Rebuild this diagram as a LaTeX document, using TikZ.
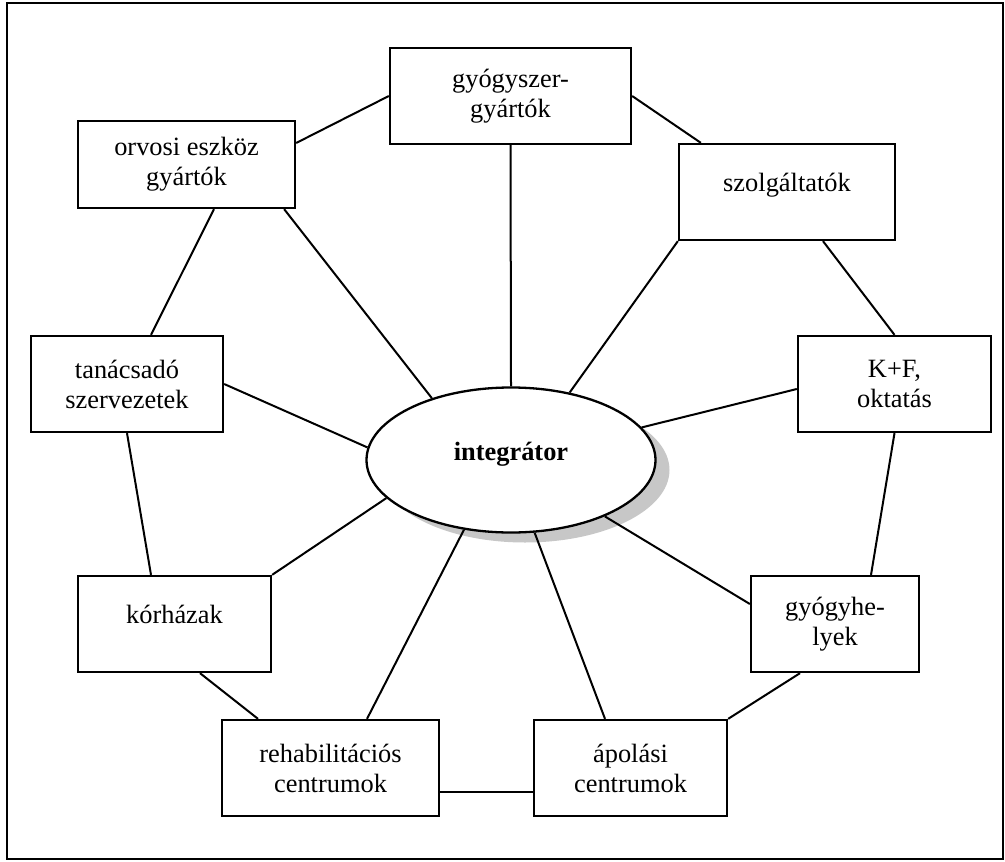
\documentclass[tikz,border=0pt]{standalone}
\usepackage{fontspec}
\setmainfont{Liberation Serif}
\usetikzlibrary{shapes.geometric,shadows}

\begin{document}
\begin{tikzpicture}[x=0.5pt, y=-0.5pt,
		box/.style={draw, line width=1.15pt, fill=white, align=center, inner sep=0pt,
			minimum height=48pt, font=\fontsize{13.2}{15}\selectfont},
		oneline/.style={text height=9.5pt, text depth=10pt},
		link/.style={line width=1pt}]
		{
			% frame
			\useasboundingbox (0,0) rectangle (1005,861);
			\draw[line width=0.8pt] (7,3) rectangle (1003,859);

			% centre
			\node[ellipse, draw, line width=1.15pt, fill=white, inner sep=0pt,
				minimum width=144.5pt, minimum height=72.5pt,
				drop shadow={shadow xshift=7pt, shadow yshift=-5pt, fill=black!22, opacity=1},
				font=\fontsize{13.2}{15}\selectfont\bfseries, text height=9pt, text depth=9pt]
				(integ) at (511,460) {integrátor};

			% boxes
			\node[box, minimum width=120.5pt] (gyogy) at (510.5,96) {gyógyszer-\\gyártók};
			\node[box, minimum width=108.5pt, minimum height=43.5pt] (orvosi) at (186.5,164.5) {orvosi eszköz\\gyártók};
			\node[box, oneline, minimum width=108pt] (szolg) at (787,192) {szolgáltatók};
			\node[box, minimum width=96pt] (tanacs) at (127,384) {tanácsadó\\szervezetek};
			\node[box, minimum width=96.5pt] (kf) at (894.5,384) {K+F,\\oktatás};
			\node[box, oneline, minimum width=96.5pt] (korh) at (174.5,624) {kórházak};
			\node[box, minimum width=84pt] (gyh) at (835,624) {gyógyhe-\\lyek};
			\node[box, minimum width=108.5pt] (rehab) at (330.5,768) {rehabilitációs\\centrumok};
			\node[box, minimum width=96.5pt] (apol) at (630.5,768) {ápolási\\centrumok};

			% ring
			\draw[link] ([yshift=10.75pt]orvosi.east) -- (gyogy.west);
			\draw[link] (gyogy.east) -- ([xshift=11.5pt]szolg.north west);
			\draw[link] ([xshift=18pt]szolg.south) -- (kf.north);
			\draw[link] (kf.south) -- ([xshift=18pt]gyh.north);
			\draw[link] ([xshift=-17.5pt]gyh.south) -- (apol.north east);
			\draw[link] ([yshift=-12pt]rehab.east) -- ([yshift=-12pt]apol.west);
			\draw[link] ([xshift=12.75pt]korh.south) -- ([xshift=-36.25pt]rehab.north);
			\draw[link] (tanacs.south) -- ([xshift=-11.75pt]korh.north);
			\draw[link] ([xshift=13.75pt]orvosi.south) -- ([xshift=12pt]tanacs.north);

			% spokes
			\draw[link] (gyogy.south) -- (integ.north);
			\draw[link] ([xshift=-6pt]orvosi.south east) -- (integ.142);
			\draw[link] (szolg.south west) -- (integ.49);
			\draw[link] (tanacs.east) -- (integ.175);
			\draw[link] ([yshift=-2.5pt]kf.west) -- (integ.14);
			\draw[link] (korh.north east) -- (integ.197);
			\draw[link] ([yshift=10pt]gyh.west) -- (integ.329);
			\draw[link] ([xshift=18.25pt]rehab.north) -- (integ.236);
			\draw[link] ([xshift=-12.75pt]apol.north) -- (integ.288);
		}
\end{tikzpicture}
\end{document}
